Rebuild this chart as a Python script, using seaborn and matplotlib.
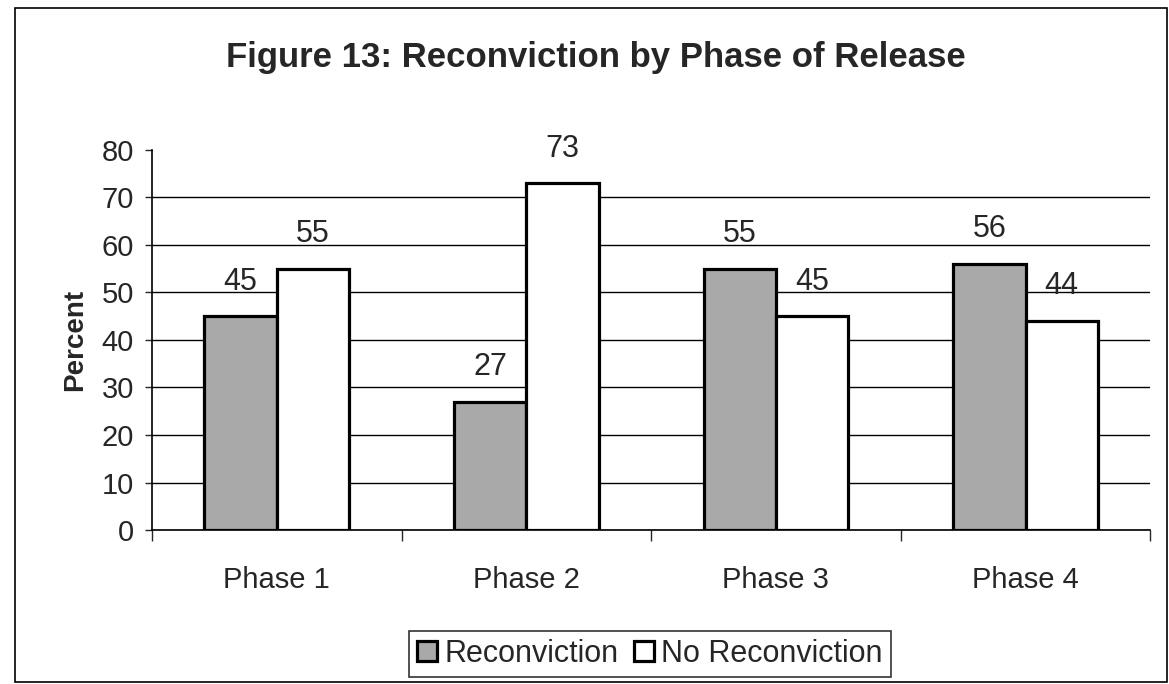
import pandas as pd
import numpy as np
import seaborn as sns
import matplotlib.pyplot as plt
from matplotlib.patches import Rectangle

phases = ['Phase 1', 'Phase 2', 'Phase 3', 'Phase 4']
reconviction = [45, 27, 55, 56]
no_reconviction = [55, 73, 45, 44]

df = pd.DataFrame({
    'Phase': phases * 2,
    'Percent': reconviction + no_reconviction,
    'Group': ['Reconviction'] * 4 + ['No Reconviction'] * 4,
})

sns.set_style('white')
plt.rcParams['font.family'] = ['Liberation Sans', 'DejaVu Sans']

fig = plt.figure(figsize=(11.69, 6.84), dpi=100)
ax = fig.add_axes([0.130, 0.225, 0.854, 0.556])

sns.barplot(data=df, x='Phase', y='Percent', hue='Group',
            palette=['#a9a9a9', 'white'], width=0.58,
            edgecolor='black', linewidth=2.3, ax=ax, legend=True)

for c in ax.containers:
    ax.bar_label(c, fmt='%d', fontsize=22, padding=14)

ax.set_ylim(0, 80)
ax.set_yticks(range(0, 81, 10))
ax.set_xlim(-0.5, 3.5)
ax.tick_params(axis='y', labelsize=21, length=5, width=1, direction='out', left=True, pad=8)
ax.tick_params(axis='x', which='major', labelsize=21, length=0, pad=26)
ax.set_xticks([-0.5, 0.5, 1.5, 2.5, 3.5], minor=True)
ax.tick_params(axis='x', which='minor', length=8, width=1, direction='out', bottom=True)

ax.yaxis.grid(True, color='black', linewidth=1)
ax.get_ygridlines()[-1].set_visible(False)
ax.set_axisbelow(True)
for s in ['top', 'right']:
    ax.spines[s].set_visible(False)
for s in ['left', 'bottom']:
    ax.spines[s].set_color('black')
    ax.spines[s].set_linewidth(1.2)

ax.set_xlabel('')
ax.set_ylabel('Percent', fontsize=20, fontweight='bold', labelpad=10)
fig.text(0.51, 0.902, 'Figure 13: Reconviction by Phase of Release',
         ha='center', va='baseline', fontsize=25, fontweight='bold')

handles, labels = ax.get_legend_handles_labels()
ax.legend(handles, labels, loc='center', bbox_to_anchor=(0.556, 0.044),
          bbox_transform=fig.transFigure, ncol=2, fontsize=22, frameon=True,
          fancybox=False, edgecolor='black', handlelength=0.65, handleheight=0.65,
          handletextpad=0.25, columnspacing=0.5, borderpad=0.25)
ax.get_legend().get_frame().set_linewidth(1.2)

fig.patches.append(Rectangle((0.013, 0.003), 0.985, 0.985, transform=fig.transFigure,
                             fill=False, edgecolor='black', linewidth=1.2))

plt.savefig('out.png', dpi=100)
